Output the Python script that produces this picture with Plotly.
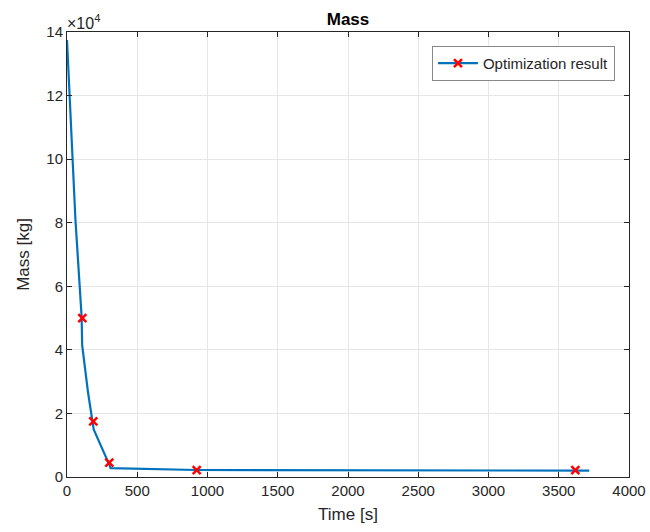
import plotly.graph_objects as go

# Trajectory (line) data
time_line = [0, 25, 60, 104, 108, 150, 185, 190, 300, 310, 920, 3717]
mass_line = [137500, 113000, 81000, 50500, 41500, 26500, 17200, 15000, 4000, 2800, 2200, 2000]

# Optimization result markers
time_marks = [109, 187, 301, 923, 3618]
mass_marks = [50000, 17500, 4500, 2200, 2200]

y_tickvals = [0, 20000, 40000, 60000, 80000, 100000, 120000, 140000]
y_ticktext = ["0", "2", "4", "6", "8", "10", "12", "14"]
x_tickvals = [0, 500, 1000, 1500, 2000, 2500, 3000, 3500, 4000]

blue = "#0072BD"
axis_col = "#262626"
font_fam = "Liberation Sans, Arial, sans-serif"

fig = go.Figure()
fig.add_trace(go.Scatter(x=time_line, y=mass_line, mode="lines",
                         line=dict(color=blue, width=2.2), showlegend=False,
                         hoverinfo="skip"))
fig.add_trace(go.Scatter(x=time_marks, y=mass_marks, mode="markers",
                         marker=dict(symbol="x-thin", size=8, color="red",
                                     line=dict(color="red", width=2.5)),
                         showlegend=False))
fig.add_trace(go.Scatter(x=[None], y=[None], mode="lines+markers",
                         name="Optimization result",
                         line=dict(color=blue, width=2.2),
                         marker=dict(symbol="x-thin", size=8, color="red",
                                     line=dict(color="red", width=2.5))))

fig.update_layout(
    width=650, height=532,
    margin=dict(l=67, r=21, t=32, b=55),
    paper_bgcolor="white", plot_bgcolor="white",
    font=dict(family=font_fam, size=15, color=axis_col),
    title=dict(text="<b>Mass</b>", x=(67 + 629) / 2 / 650, xanchor="center",
               y=1 - 19 / 532, yanchor="middle",
               font=dict(size=17, color="black", family=font_fam)),
    legend=dict(x=0.975, y=0.969, xanchor="right", yanchor="top",
                bgcolor="white", bordercolor="#888888", borderwidth=1,
                font=dict(size=15, color=axis_col), itemwidth=40,
                tracegroupgap=0),
    xaxis=dict(range=[0, 4000], tickvals=x_tickvals, ticks="inside", ticklen=5,
               tickcolor=axis_col, showline=True, linecolor=axis_col, linewidth=1,
               mirror="allticks", showgrid=True, gridcolor="#e6e6e6", zeroline=False,
               title=dict(text="Time [s]", font=dict(size=17), standoff=10),
               tickfont=dict(size=15), automargin=False),
    yaxis=dict(range=[0, 140000], tickvals=y_tickvals, ticktext=y_ticktext,
               ticks="inside", ticklen=5, tickcolor=axis_col, showline=True,
               linecolor=axis_col, linewidth=1, mirror="allticks", showgrid=True,
               gridcolor="#e6e6e6", zeroline=False,
               title=dict(text="Mass [kg]", font=dict(size=17), standoff=12),
               tickfont=dict(size=15), automargin=False),
    annotations=[dict(text="×10<sup>4</sup>", xref="paper", yref="paper",
                      x=0, y=1, xanchor="left", yanchor="bottom", showarrow=False,
                      font=dict(size=16, color=axis_col), yshift=-2, xshift=-2)],
)

fig.write_html("out.html", config={"displayModeBar": False},
               post_script="document.body.style.margin='0';")
